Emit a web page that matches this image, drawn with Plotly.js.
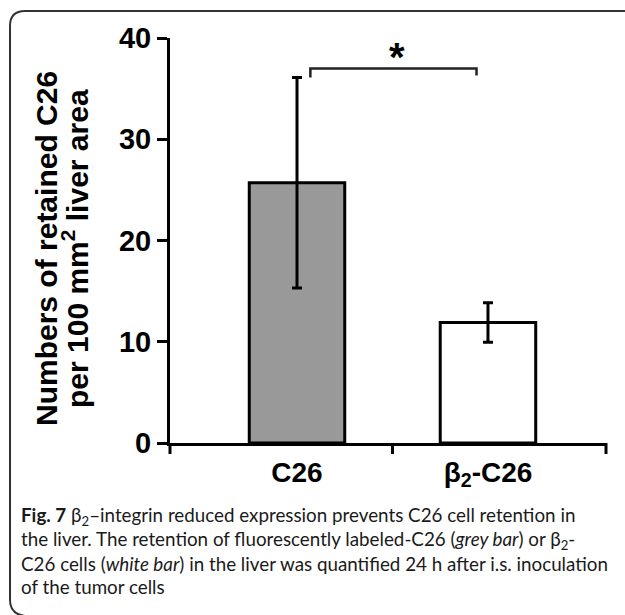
<!DOCTYPE html>
<html>
<head>
<meta charset="utf-8">
<script src="https://cdn.plot.ly/plotly-3.0.1.min.js"></script>
<style>html,body{margin:0;padding:0;background:#fff;}#chart{width:625px;height:615px;}</style>
</head>
<body>
<div id="chart"></div>
<script>
// ---- data ----
const categories = ['C26', 'β<sub>2</sub>-C26'];
const means = [25.7, 11.9];
const errors = [10.4, 1.95];
const barColors = ['#999999', '#ffffff'];
const yTickValues = [0, 10, 20, 30, 40];
const yTickLabels = ['0', '10', '20', '30', '40'];
const yTitleLines = ['Numbers of retained C26', 'per 100 mm<sup>2</sup> liver area'];
const significance = '*';
const captionLines = [
  '<b>Fig. 7</b> β<sub>2</sub>–integrin reduced expression prevents C26 cell retention in',
  'the liver. The retention of fluorescently labeled-C26 (<i>grey bar</i>) or β<sub>2</sub>-',
  'C26 cells (<i>white bar</i>) in the liver was quantified 24 h after i.s. inoculation',
  'of the tumor cells'
];

// ---- layout geometry ----
const W = 625, H = 615;
const M = {l: 170, r: 19, t: 38, b: 172};
const xr = [-0.665, 1.618];
const yr = [0, 40];
const pw = W - M.l - M.r, ph = H - M.t - M.b;
const pxX = px => (px - M.l) / pw;          // pixel -> paper x
const pxY = py => (H - M.b - py) / ph;      // pixel -> paper y
const dX = v => (v - xr[0]) / (xr[1] - xr[0]); // data -> paper x
const xpos = categories.map((c, i) => i);

const boldArial = {family: 'Liberation Sans, Arial, sans-serif', weight: 'bold', color: '#000'};

const trace = {
  type: 'bar',
  x: xpos,
  y: means,
  width: 0.5,
  marker: {color: barColors, line: {color: '#000', width: 3}},
  error_y: {type: 'data', array: errors, visible: true, color: '#000', thickness: 3, width: 5},
  hoverinfo: 'none'
};

const shapes = [];
// x-axis tick marks (axis ends and category divider)
const tickLen = 11 / ph;
[xr[0], (xpos[0] + xpos[1]) / 2, xr[1]].forEach(v => {
  shapes.push({type: 'line', xref: 'paper', yref: 'paper', x0: dX(v), x1: dX(v), y0: 0, y1: -tickLen,
    line: {color: '#000', width: 3}});
});
// significance bracket
const topY = Math.max(...means.map((m, i) => m + errors[i]));
const bY = topY + 0.9, bLeftDrop = topY, bRightDrop = topY + 0.2;
const bx0 = xpos[0] + 0.07, bx1 = xpos[1] - 0.06;
shapes.push({type: 'path', xref: 'x', yref: 'y',
  path: `M ${bx0} ${bLeftDrop} L ${bx0} ${bY} L ${bx1} ${bY} L ${bx1} ${bRightDrop}`,
  line: {color: '#222', width: 2.5}});
// frame (rounded, open on right/bottom edges)
const fx = 10, fy = 11, rad = 15;
shapes.push({type: 'path', xref: 'paper', yref: 'paper',
  path: `M ${pxX(W + 5)} ${pxY(fy)} L ${pxX(fx + rad)} ${pxY(fy)} Q ${pxX(fx)} ${pxY(fy)} ${pxX(fx)} ${pxY(fy + rad)} L ${pxX(fx)} ${pxY(600)} Q ${pxX(fx)} ${pxY(614)} ${pxX(fx + rad)} ${pxY(616)}`,
  line: {color: '#333', width: 2}});

const annotations = [];
// significance star
annotations.push({xref: 'x', yref: 'y', x: (bx0 + bx1) / 2 + 0.02, y: bY + 1.1, text: significance,
  showarrow: false, xanchor: 'center', yanchor: 'middle',
  font: Object.assign({}, boldArial, {size: 40})});
// y-axis title (two lines, rotated)
const titleCenters = [46, 75];
yTitleLines.forEach((t, i) => {
  annotations.push({xref: 'paper', yref: 'paper', x: pxX(titleCenters[i]), y: pxY(249), text: t,
    textangle: -90, showarrow: false, xanchor: 'center', yanchor: 'middle', align: 'center',
    font: Object.assign({}, boldArial, {size: 30})});
});
// caption
const baselines = [523, 547, 570, 593];
const capSize = 18.8;
captionLines.forEach((t, i) => {
  annotations.push({xref: 'paper', yref: 'paper', x: pxX(19), y: pxY(baselines[i] - 0.35 * capSize),
    xanchor: 'left', yanchor: 'middle', align: 'left', showarrow: false, text: t,
    font: {family: 'Lato, Liberation Sans, sans-serif', size: capSize, color: '#1a1a1a'}});
});

const layout = {
  width: W, height: H,
  margin: M,
  paper_bgcolor: '#fff', plot_bgcolor: '#fff',
  showlegend: false,
  xaxis: {
    range: xr, tickvals: xpos, ticktext: categories,
    ticks: 'outside', ticklen: 2, tickcolor: 'rgba(0,0,0,0)',
    showline: true, linewidth: 3, linecolor: '#000',
    showgrid: false, zeroline: false, fixedrange: true,
    tickfont: Object.assign({}, boldArial, {size: 28})
  },
  yaxis: {
    range: yr, tickvals: yTickValues, ticktext: yTickLabels,
    ticks: 'outside', ticklen: 10, tickwidth: 3, tickcolor: '#000',
    showline: true, linewidth: 3, linecolor: '#000',
    showgrid: false, zeroline: false, fixedrange: true,
    tickfont: Object.assign({}, boldArial, {size: 29})
  },
  shapes: shapes,
  annotations: annotations
};

Plotly.newPlot('chart', [trace], layout, {displayModeBar: false, staticPlot: true});
</script>
</body>
</html>
